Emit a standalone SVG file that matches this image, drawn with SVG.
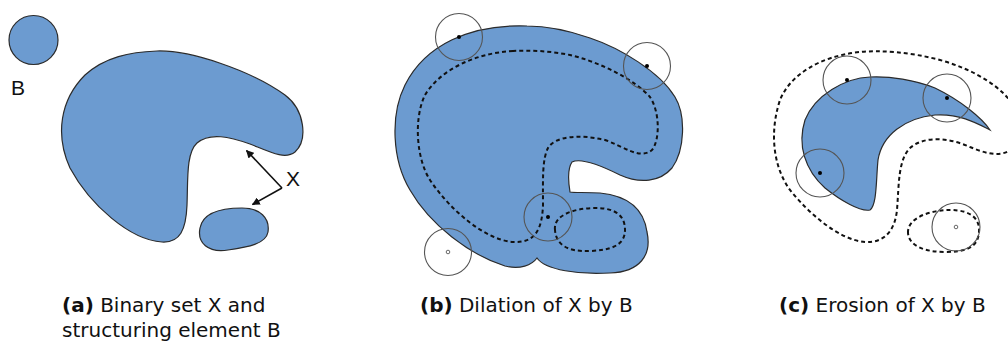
<svg xmlns="http://www.w3.org/2000/svg" width="1008" height="341" viewBox="0 0 1008 341">
<defs>
<style>
.blob{fill:#6c9bd0;stroke:#2b2b2b;stroke-width:1.2}
.dash{fill:none;stroke:#111;stroke-width:2;stroke-dasharray:4 3}
.se{fill:none;stroke:#555;stroke-width:1.1}
.dot{fill:#000}
.hole{fill:#fff;stroke:#444;stroke-width:0.8}
.lbl{font-family:"Liberation Sans",Arial,sans-serif;font-size:21px;fill:#111}
.cap{font-family:"DejaVu Sans","Noto Sans",sans-serif;font-size:20px;fill:#111}
.cap tspan.b{font-weight:bold}
.arr{fill:none;stroke:#111;stroke-width:1.6}
</style>
<marker id="ah" viewBox="0 0 10 10" refX="9" refY="5" markerWidth="5" markerHeight="5" orient="auto" markerUnits="strokeWidth">
<path d="M0,0 L10,5 L0,10 Z" fill="#111"/>
</marker>
</defs>
<rect width="1008" height="341" fill="#fff"/>

<g id="panel-a">
<g id="B-element">
<circle class="blob" cx="33.5" cy="40" r="24.5"/>
<text class="lbl" x="11" y="95">B</text>
</g>
<g id="X-main">
<path class="blob" d="M157,51 C190,50 250,70 285,95 C305,110 308,140 295,152 C285,160 270,152 250,144 C230,137 210,132 197,143 C186,153 188,180 187,205 C186,230 180,243 162,242 C130,240 90,205 70,168 C55,135 60,100 85,75 C105,57 130,52 157,51 Z"/>
</g>
<g id="X-small">
<path class="blob" d="M200,228 C203,212 222,208 242,208 C260,208 270,218 268,232 C266,244 248,247 228,250 C208,253 197,243 200,228 Z"/>
</g>
<g id="X-label">
<text class="lbl" x="286" y="185.5">X</text>
</g>
</g>

<g id="connectors">
<path class="arr" d="M282,188 L246.5,150.5" marker-end="url(#ah)"/>
<path class="arr" d="M282,188 L252.5,204.5" marker-end="url(#ah)"/>
</g>

<g id="panel-b">
<path class="blob" d="M527,26 C470,24 425,45 405,85 C390,115 392,160 410,190 C430,225 470,255 505,266 C520,270 532,265 537,258 C545,270 580,275 610,273 C640,272 652,255 647,232 C644,210 630,196 600,193 C585,192 575,193 570,192 C568,180 568,168 572,162 C580,158 600,165 620,175 C640,184 660,182 672,168 C685,150 686,115 675,97 C660,72 620,48 590,38 C570,31 550,26 527,26 Z"/>
<path class="dash" d="M513,51 C475,53 440,70 425,95 C413,120 417,160 430,180 C450,210 485,240 513,242 C535,243 542,230 543,205 C543,180 542,160 548,148 C555,136 580,134 605,140 C625,147 640,160 652,150 C660,140 660,112 650,97 C635,80 600,62 570,55 C550,51 530,50 513,51 Z"/>
<path class="dash" d="M555,230 C553,215 575,208 595,208 C615,208 625,215 625,230 C625,246 610,250 590,251 C568,252 556,245 555,230 Z"/>
<circle class="se" cx="459" cy="37" r="23.5"/><circle class="dot" cx="459" cy="37" r="2"/>
<circle class="se" cx="647" cy="66" r="23.5"/><circle class="dot" cx="647" cy="66" r="2"/>
<circle class="se" cx="548" cy="217" r="24"/><circle class="dot" cx="548" cy="217" r="2"/>
<circle class="se" cx="448" cy="252" r="23.5"/><circle class="hole" cx="448" cy="252" r="1.8"/>
</g>

<g id="panel-c">
<path class="blob" d="M870,77 C845,78 815,95 805,120 C797,145 805,170 825,188 C840,200 860,212 870,210 C877,205 876,180 878,160 C882,135 905,118 935,115 C960,113 980,125 990,130 C982,118 960,100 935,88 C915,80 890,76 870,77 Z"/>
<path class="dash" d="M1016,110 C1005,88 975,70 940,60 C910,52 880,50 860,52 C820,56 790,75 780,100 C770,130 772,165 790,190 C810,215 840,240 865,242 C885,243 895,230 897,210 C899,185 898,160 910,148 C925,135 950,138 970,147 C985,153 1003,160 1016,145"/>
<path class="dash" d="M908,233 C907,218 930,210 950,210 C970,210 980,218 979,232 C978,248 965,252 945,252 C925,252 909,246 908,233 Z"/>
<circle class="se" cx="847" cy="80" r="24"/><circle class="dot" cx="847" cy="80" r="2"/>
<circle class="se" cx="947" cy="98" r="24"/><circle class="dot" cx="947" cy="98" r="2"/>
<circle class="se" cx="820" cy="173" r="24"/><circle class="dot" cx="820" cy="173" r="2"/>
<circle class="se" cx="956" cy="227" r="24"/><circle class="hole" cx="956" cy="227" r="1.8"/>
</g>

<g id="captions">
<text class="cap" x="62" y="312"><tspan class="b">(a)</tspan> Binary set X and</text>
<text class="cap" x="62" y="337">structuring element B</text>
<text class="cap" x="420" y="312"><tspan class="b">(b)</tspan> Dilation of X by B</text>
<text class="cap" x="779" y="312"><tspan class="b">(c)</tspan> Erosion of X by B</text>
</g>
</svg>
